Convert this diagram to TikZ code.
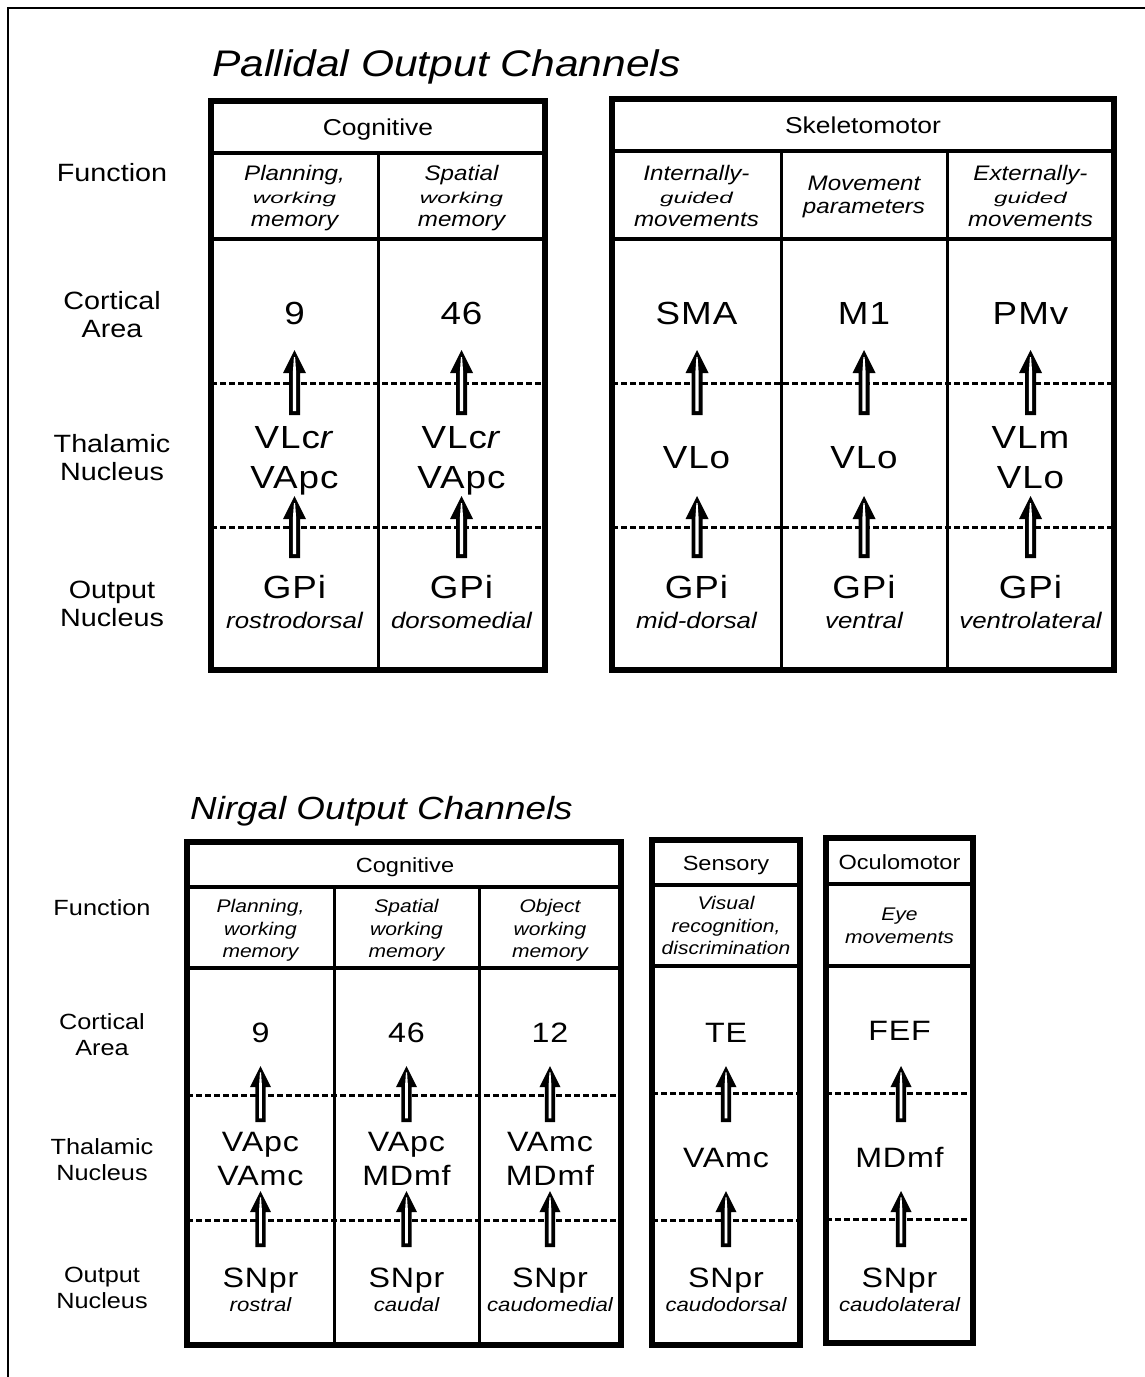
\documentclass[tikz,border=0pt]{standalone}
\usepackage{graphicx}
\usepackage{fontspec}
\setmainfont{Liberation Sans}[FakeStretch=1.15]
\newfontfamily\abbrfont{Liberation Sans}[FakeStretch=1.15,LetterSpace=3]
\usetikzlibrary{calc}

% stacked lines with a fixed pitch; the node base is the first line
\newcommand{\stk}[1]{\begin{tabular}[t]{@{}c@{}}#1\end{tabular}}
% vertically squeezed word
\newcommand{\squash}[1]{\scalebox{1}[0.75]{#1}}
% hollow-shaft upward arrow from tail coordinate #2 to tip coordinate #3, scaled by #1
\newcommand{\flowarrow}[3][1]{%
  \fill[arrowink] let \p1=(#2), \p2=(#3) in
    (\x1-5.5*#1pt,\y1) -- (\x1+5.5*#1pt,\y1) -- (\x1+5.5*#1pt,\y2-23*#1pt)
    -- (\x1+11.5*#1pt,\y2-23*#1pt) -- (\x2,\y2) -- (\x1-11.5*#1pt,\y2-23*#1pt)
    -- (\x1-5.5*#1pt,\y2-23*#1pt) -- cycle;
  \fill[white] let \p1=(#2), \p2=(#3) in
    (\x1-1.6*#1pt,\y1+4*#1pt) -- (\x1+1.6*#1pt,\y1+4*#1pt) -- (\x1+1.6*#1pt,\y2-22*#1pt)
    -- (\x1+0.6*#1pt,\y2-7*#1pt) -- (\x1-0.6*#1pt,\y2-7*#1pt) -- (\x1-1.6*#1pt,\y2-22*#1pt) -- cycle;
}
% table rules: left, right, top, bottom, header rule, function rule, upper dashed, lower dashed
\newcommand{\chanbox}[8]{%
  \draw[dashrule] (#1,#7) -- (#2,#7) (#1,#8) -- (#2,#8);
  \draw[rowrule] (#1,#5) -- (#2,#5) (#1,#6) -- (#2,#6);
}
\newcommand{\chanedge}[4]{\draw[boxedge] (#1,#3) rectangle (#2,#4);}

\colorlet{arrowink}{black}

\begin{document}
\begin{tikzpicture}[x=1pt,y=-1pt,
  frame/.style={line width=2.4pt},
  boxedge/.style={line width=5.5pt},
  rowrule/.style={line width=4pt},
  colrule/.style={line width=3pt},
  dashrule/.style={line width=3pt, dash pattern=on 6pt off 3pt},
  txt/.style={anchor=base, inner sep=0pt},
  title/.style={txt, anchor=base west, font=\itshape\fontsize{37}{40}\selectfont},
  titles/.style={txt, anchor=base west, font=\itshape\fontsize{32}{36}\selectfont},
  lab/.style={txt, font=\fontsize{25}{28}\selectfont},
  labs/.style={txt, font=\fontsize{22}{26}\selectfont},
  head/.style={txt, font=\fontsize{23}{26}\selectfont},
  heads/.style={txt, font=\fontsize{20.5}{24}\selectfont},
  func/.style={txt, font=\itshape\fontsize{21}{23}\selectfont},
  funcs/.style={txt, font=\itshape\fontsize{18.3}{22.5}\selectfont},
  abbr/.style={txt, font=\abbrfont\fontsize{32}{40}\selectfont},
  abbrs/.style={txt, font=\abbrfont\fontsize{28}{34}\selectfont},
  part/.style={txt, font=\itshape\fontsize{22.5}{26}\selectfont},
  parts/.style={txt, font=\itshape\fontsize{19.3}{22}\selectfont}
]
\useasboundingbox (0,0) rectangle (1145,1377);
\fill[white] (0,0) rectangle (1145,1377);

% page frame
\draw[frame] (8,1390) -- (8,8) -- (1160,8);

% ---------------- pallidal channels ----------------
\node[title] (t-pal) at (212,76) {Pallidal Output Channels};

\node[lab] (pl-fn) at (112,181) {Function};
\node[lab] (pl-ca) at (112,309) {\stk{Cortical\\Area}};
\node[lab] (pl-th) at (112,452) {\stk{Thalamic\\Nucleus}};
\node[lab] (pl-on) at (112,598) {\stk{Output\\Nucleus}};

\chanbox{211}{545}{101}{670}{153}{239}{383}{527}
\draw[colrule] (378,153) -- (378,670);
\chanbox{612}{1114}{99}{670}{151}{239}{383}{527}
\draw[colrule] (781,151) -- (781,670) (947,151) -- (947,670);

\node[head] (pc-h) at (378,135.3) {Cognitive};
\node[head] (ps-h) at (863,133.5) {Skeletomotor};

% cognitive columns
\node[func] (pc1-fn) at (294.5,180) {\stk{Planning,\\\squash{working}\\memory}};
\node[abbr] (pc1-ca) at (294.5,324.5) {9};
\node[abbr] (pc1-th) at (294.5,448.5) {\stk{VLc\textit{r}\\VApc}};
\node[abbr] (pc1-on) at (294.5,598.5) {GPi};
\node[part] (pc1-sub) at (294.5,628) {rostrodorsal};

\node[func] (pc2-fn) at (461.5,180) {\stk{Spatial\\\squash{working}\\memory}};
\node[abbr] (pc2-ca) at (461.5,324.5) {46};
\node[abbr] (pc2-th) at (461.5,448.5) {\stk{VLc\textit{r}\\VApc}};
\node[abbr] (pc2-on) at (461.5,598.5) {GPi};
\node[part] (pc2-sub) at (461.5,628) {dorsomedial};

% skeletomotor columns
\node[func] (ps1-fn) at (696.5,180) {\stk{Internally-\\\squash{guided}\\movements}};
\node[abbr] (ps1-ca) at (696.5,324.5) {SMA};
\node[abbr] (ps1-th) at (696.5,468.5) {VLo};
\node[abbr] (ps1-on) at (696.5,598.5) {GPi};
\node[part] (ps1-sub) at (696.5,628) {mid-dorsal};

\node[func] (ps2-fn) at (864,190.5) {\stk{Movement\\parameters}};
\node[abbr] (ps2-ca) at (864,324.5) {M1};
\node[abbr] (ps2-th) at (864,468.5) {VLo};
\node[abbr] (ps2-on) at (864,598.5) {GPi};
\node[part] (ps2-sub) at (864,628) {ventral};

\node[func] (ps3-fn) at (1030.5,180) {\stk{Externally-\\\squash{guided}\\movements}};
\node[abbr] (ps3-ca) at (1030.5,324.5) {PMv};
\node[abbr] (ps3-th) at (1030.5,448.5) {\stk{VLm\\VLo}};
\node[abbr] (ps3-on) at (1030.5,598.5) {GPi};
\node[part] (ps3-sub) at (1030.5,628) {ventrolateral};

% projections output -> thalamus -> cortex
\foreach \cc/\xx in {pc1/294.5,pc2/461.5,ps1/697,ps2/864,ps3/1030.5} {
  \coordinate (\cc-lt) at (\xx,558);
  \coordinate (\cc-lh) at (\xx,496);
  \coordinate (\cc-ut) at (\xx,415);
  \coordinate (\cc-uh) at (\xx,350);
  \flowarrow{\cc-lt}{\cc-lh}
  \flowarrow{\cc-ut}{\cc-uh}
}

\chanedge{211}{545}{101}{670}
\chanedge{612}{1114}{99}{670}

% ---------------- nigral channels ----------------
\node[titles] (t-nig) at (190,819.5) {Nirgal Output Channels};

\node[labs] (nl-fn) at (102,915) {Function};
\node[labs] (nl-ca) at (102,1029) {\stk{Cortical\\Area}};
\node[labs] (nl-th) at (102,1154) {\stk{Thalamic\\Nucleus}};
\node[labs] (nl-on) at (102,1282) {\stk{Output\\Nucleus}};

\chanbox{187}{621}{842}{1345}{887}{968}{1095}{1220}
\draw[colrule] (334,887) -- (334,1345) (479,887) -- (479,1345);
\chanbox{652}{800}{840}{1345}{885}{966}{1093}{1220}
\chanbox{826}{973}{838}{1343}{884}{966}{1093}{1219}

\node[heads] (nc-h) at (405,872.4) {Cognitive};
\node[heads] (ns-h) at (726,870.5) {Sensory};
\node[heads] (no-h) at (899.5,869.5) {Oculomotor};

\node[funcs] (nc1-fn) at (260.5,912.6) {\stk{Planning,\\working\\memory}};
\node[abbrs] (nc1-ca) at (260.5,1042) {9};
\node[abbrs] (nc1-th) at (260.5,1151) {\stk{VApc\\VAmc}};
\node[abbrs] (nc1-on) at (260.5,1287) {SNpr};
\node[parts] (nc1-sub) at (260.5,1311) {rostral};

\node[funcs] (nc2-fn) at (406.5,912.6) {\stk{Spatial\\working\\memory}};
\node[abbrs] (nc2-ca) at (406.5,1042) {46};
\node[abbrs] (nc2-th) at (406.5,1151) {\stk{VApc\\MDmf}};
\node[abbrs] (nc2-on) at (406.5,1287) {SNpr};
\node[parts] (nc2-sub) at (406.5,1311) {caudal};

\node[funcs] (nc3-fn) at (550,912.6) {\stk{Object\\working\\memory}};
\node[abbrs] (nc3-ca) at (550,1042) {12};
\node[abbrs] (nc3-th) at (550,1151) {\stk{VAmc\\MDmf}};
\node[abbrs] (nc3-on) at (550,1287) {SNpr};
\node[parts] (nc3-sub) at (550,1311) {caudomedial};

\node[funcs] (ns1-fn) at (726,909.6) {\stk{Visual\\recognition,\\discrimination}};
\node[abbrs] (ns1-ca) at (726,1042) {TE};
\node[abbrs] (ns1-th) at (726,1167) {VAmc};
\node[abbrs] (ns1-on) at (726,1287) {SNpr};
\node[parts] (ns1-sub) at (726,1311) {caudodorsal};

\node[funcs] (no1-fn) at (899.5,920.6) {\stk{Eye\\movements}};
\node[abbrs] (no1-ca) at (899.5,1040) {FEF};
\node[abbrs] (no1-th) at (899.5,1167) {MDmf};
\node[abbrs] (no1-on) at (899.5,1287) {SNpr};
\node[parts] (no1-sub) at (899.5,1311) {caudolateral};

\foreach \cc/\xx in {nc1/260.5,nc2/406.5,nc3/550,ns1/726,no1/901} {
  \coordinate (\cc-lt) at (\xx,1247);
  \coordinate (\cc-lh) at (\xx,1191);
  \coordinate (\cc-ut) at (\xx,1122);
  \coordinate (\cc-uh) at (\xx,1066);
  \flowarrow[0.92]{\cc-lt}{\cc-lh}
  \flowarrow[0.92]{\cc-ut}{\cc-uh}
}

\chanedge{187}{621}{842}{1345}
\chanedge{652}{800}{840}{1345}
\chanedge{826}{973}{838}{1343}
\end{tikzpicture}
\end{document}
